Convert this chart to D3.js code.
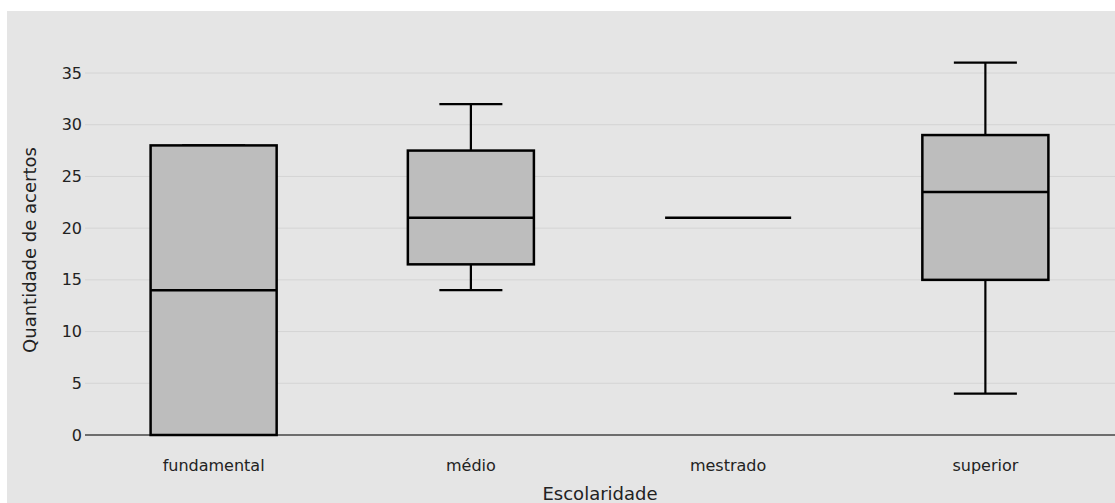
<!DOCTYPE html>
<html>
<head>
<meta charset="utf-8">
<script src="https://cdn.jsdelivr.net/npm/d3@7"></script>
<style>
  html, body { margin: 0; padding: 0; background: #fff; }
  svg { display: block; }
  text { font-family: "DejaVu Sans", Verdana, sans-serif; fill: #222; }
</style>
</head>
<body>
<svg id="chart" width="1115" height="503"></svg>
<script>
const categories = ["fundamental", "médio", "mestrado", "superior"];
const mins    = [0,  14,   21, 4];
const q1s     = [0,  16.5, 21, 15];
const medians = [14, 21,   21, 23.5];
const q3s     = [28, 27.5, 21, 29];
const maxs    = [28, 32,   21, 36];
const yTicks  = [0, 5, 10, 15, 20, 25, 30, 35];
const xTitle = "Escolaridade";
const yTitle = "Quantidade de acertos";

const W = 1115, H = 503;
const svg = d3.select("#chart");

// panel background
svg.append("rect").attr("x", 7).attr("y", 11).attr("width", W - 7).attr("height", H - 11)
  .attr("fill", "#e5e5e5");

const x = d3.scaleBand().domain(categories).range([85, 1114]).padding(0);
const y = d3.scaleLinear().domain([0, 35]).range([435, 73]);

// grid
svg.append("g").selectAll("line").data(yTicks.filter(d => d !== 0)).join("line")
  .attr("x1", 85).attr("x2", W)
  .attr("y1", d => y(d)).attr("y2", d => y(d))
  .attr("stroke", "#d4d4d4").attr("stroke-width", 1);

// y axis labels
const yAxis = d3.axisLeft(y).tickValues(yTicks).tickSize(0).tickPadding(3);
const gy = svg.append("g").attr("transform", "translate(85,0)").call(yAxis);
gy.select(".domain").remove();
gy.selectAll("text").style("font-size", "16px").attr("fill", "#222");

// zero line
svg.append("line").attr("x1", 85).attr("x2", W).attr("y1", y(0)).attr("y2", y(0))
  .attr("stroke", "#444").attr("stroke-width", 1.5);

// x axis labels
const xAxis = d3.axisBottom(x).tickSize(0).tickPadding(25);
const gx = svg.append("g").attr("transform", `translate(0,${y(0)})`).call(xAxis);
gx.select(".domain").remove();
gx.selectAll("text").style("font-size", "16px").attr("fill", "#222");

// titles
svg.append("text").attr("x", 600).attr("y", 500)
  .attr("text-anchor", "middle").style("font-size", "18px").text(xTitle);
svg.append("text").attr("transform", `translate(36,${250}) rotate(-90)`)
  .attr("text-anchor", "middle").style("font-size", "18px").text(yTitle);

// boxes
const data = categories.map((c, i) => ({ c, min: mins[i], q1: q1s[i], med: medians[i], q3: q3s[i], max: maxs[i] }));
const bw = x.bandwidth() * 0.49;
const cw = bw / 2;
const g = svg.append("g");
data.forEach(d => {
  const cx = x(d.c) + x.bandwidth() / 2;
  const gg = g.append("g");
  if (d.max > d.q3) {
    gg.append("line").attr("x1", cx).attr("x2", cx).attr("y1", y(d.q3)).attr("y2", y(d.max))
      .attr("stroke", "#000").attr("stroke-width", 2.2);
  }
  if (d.min < d.q1) {
    gg.append("line").attr("x1", cx).attr("x2", cx).attr("y1", y(d.q1)).attr("y2", y(d.min))
      .attr("stroke", "#000").attr("stroke-width", 2.2);
  }
  if (d.max > d.min) {
    gg.append("line").attr("x1", cx - cw / 2).attr("x2", cx + cw / 2).attr("y1", y(d.max)).attr("y2", y(d.max))
      .attr("stroke", "#000").attr("stroke-width", 2.2);
    gg.append("line").attr("x1", cx - cw / 2).attr("x2", cx + cw / 2).attr("y1", y(d.min)).attr("y2", y(d.min))
      .attr("stroke", "#000").attr("stroke-width", 2.2);
  }
  gg.append("rect").attr("x", cx - bw / 2).attr("width", bw)
    .attr("y", y(d.q3)).attr("height", y(d.q1) - y(d.q3))
    .attr("fill", "#bdbdbd").attr("stroke", "#000").attr("stroke-width", 2.5);
  gg.append("line").attr("x1", cx - bw / 2).attr("x2", cx + bw / 2).attr("y1", y(d.med)).attr("y2", y(d.med))
    .attr("stroke", "#000").attr("stroke-width", 2.5);
});
</script>
</body>
</html>
